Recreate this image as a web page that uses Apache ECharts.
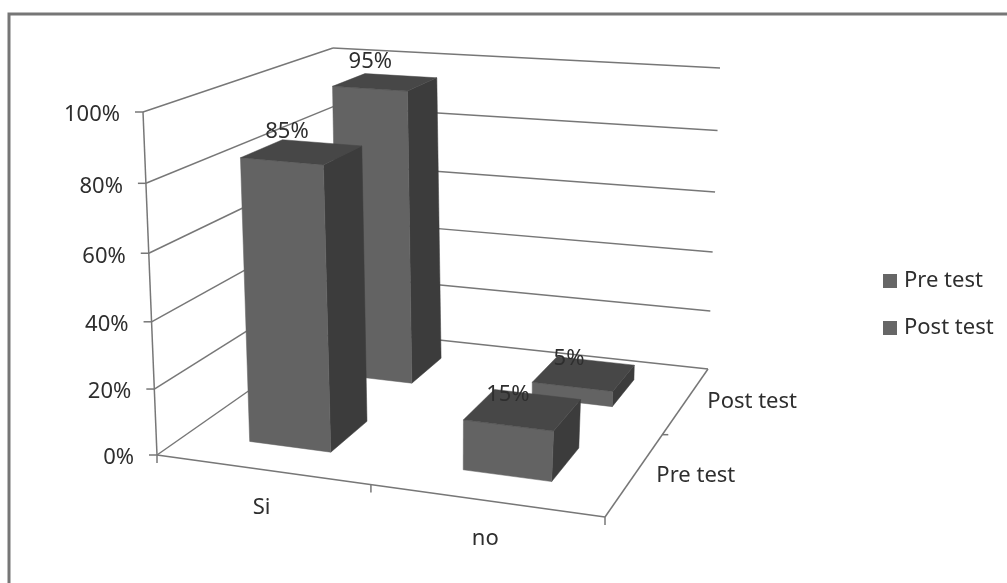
<!DOCTYPE html>
<html><head><meta charset="utf-8">
<style>html,body{margin:0;padding:0;background:#fff}#c{width:1007px;height:583px}</style>
<script src="https://cdn.jsdelivr.net/npm/echarts@6/dist/echarts.min.js"></script>
</head><body><div id="c"></div>
<script>
const categories = ['Si', 'no'];
const seriesNames = ['Pre test', 'Post test'];
const preTest = [85, 15];
const postTest = [95, 5];
const valueTicks = [0, 20, 40, 60, 80, 100];

// perspective frame of the 3D box: corners on screen (u along categories, v along depth)
const floorQuad = [[157,455],[605,517],[708,369],[337,329]];
const topQuad   = [[143,112],[632,153],[720,68],[333,48]];
const heightPerspective = 0.05;
const barU = 0.39, barV = 0.42;          // bar width as share of band
const font = 'Noto Sans';
const ink = '#2e2e2e', rule = '#777777';

function homography(q){
  const [[x0,y0],[x1,y1],[x2,y2],[x3,y3]] = q;
  const dx1=x1-x2, dx2=x3-x2, sx=x0-x1+x2-x3, dy1=y1-y2, dy2=y3-y2, sy=y0-y1+y2-y3;
  const den=dx1*dy2-dx2*dy1, g=(sx*dy2-dx2*sy)/den, h=(dx1*sy-sx*dy1)/den;
  const a=x1-x0+g*x1, b=x3-x0+h*x3, d=y1-y0+g*y1, e=y3-y0+h*y3;
  return (u,v)=>{const w=g*u+h*v+1; return [(a*u+b*v+x0)/w,(d*u+e*v+y0)/w];};
}
const floorH = homography(floorQuad), topH = homography(topQuad);
function P(u,v,t0){
  const t=t0/(1+heightPerspective*(1-t0));
  const a=floorH(u,v), b=topH(u,v);
  return [a[0]+(b[0]-a[0])*t, a[1]+(b[1]-a[1])*t];
}
function poly(points, fill){
  return {type:'polygon', shape:{points}, style:{fill, stroke:fill, lineWidth:0.5}, silent:true};
}
function line(a,b,w){
  return {type:'line', shape:{x1:a[0],y1:a[1],x2:b[0],y2:b[1]}, style:{stroke:rule, lineWidth:w||1.5}, silent:true};
}
function label(x,y,text,align){
  return {type:'text', silent:true, z2:50, style:{x,y,text,fill:ink,fontFamily:font,fontSize:22,align:align||'center',verticalAlign:'middle'}};
}
function norm(params, api, cat, val){
  const s=params.coordSys, c=api.coord([cat,val]);
  return {u:(c[0]-s.x)/s.width, t:(s.y+s.height-c[1])/s.height};
}

function renderWall(params, api){
  const val=api.value(1), t=norm(params,api,0,val).t;
  const a=P(0,0,t), b=P(0,1,t), c=P(1,1,t);
  const kids=[line(a,b), line(b,c), line(a,[a[0]-8,a[1]]),
    label(a[0]-23,a[1]+3,val+'%','right')];
  if(val===0){
    const fr=P(1,0,0), br=P(1,1,0), mid=P(1,0.5,0), xm=P(0.5,0,0);
    kids.push(line(a,fr), line(fr,br), line(P(0,0,0),P(0,0,1)),
      line(fr,[fr[0],fr[1]+8]), line(xm,[xm[0],xm[1]+8]),
      line(mid,[mid[0]+6,mid[1]]), line(a,[a[0],a[1]+8]));
  }
  return {type:'group', children:kids};
}
function renderCatLabel(params, api){
  const cat=api.value(0);
  const u=norm(params,api,cat,0).u, p=P(u,0,0);
  return label(p[0],p[1]+38,categories[cat]);
}
function renderDepthLabel(params, api){
  const i=params.dataIndex, p=P(1,(i+0.5)/seriesNames.length,0);
  return label(p[0]+21,p[1]+2,seriesNames[i],'left');
}
function barRenderer(depthIndex){
  return function(params, api){
    const cat=api.value(0), val=api.value(1), s=params.coordSys;
    const n=norm(params,api,cat,val);
    const hu=barU*api.size([1,0])[0]/s.width/2;
    const vc=(depthIndex+0.5)/seriesNames.length, hv=barV/seriesNames.length/2;
    const u0=n.u-hu,u1=n.u+hu,v0=vc-hv,v1=vc+hv,t=n.t;
    const tc=P(n.u,vc,t);
    return {type:'group',children:[
      poly([P(u1,v0,0),P(u1,v1,0),P(u1,v1,t),P(u1,v0,t)],'#3c3c3c'),
      poly([P(u0,v0,0),P(u1,v0,0),P(u1,v0,t),P(u0,v0,t)],'#636363'),
      poly([P(u0,v0,t),P(u1,v0,t),P(u1,v1,t),P(u0,v1,t)],'#474747'),
      label(tc[0]-15,tc[1]-14-7*t,val+'%')
    ]};
  };
}

const chart = echarts.init(document.getElementById('c'), null, {renderer:'canvas'});
chart.setOption({
  animation:false,
  backgroundColor:'#fff',
  graphic:[{type:'rect', shape:{x:9,y:14,width:1200,height:800}, style:{fill:'none',stroke:'#767676',lineWidth:3}, silent:true, z:-1}],
  legend:{
    data:seriesNames, orient:'vertical', left:878, top:262, icon:'rect',
    itemWidth:14, itemHeight:14, itemGap:19,
    textStyle:{fontFamily:font,fontSize:22,color:ink,lineHeight:28,padding:[0,0,0,2]},
    selectedMode:false
  },
  grid:{left:143,top:112,width:462,height:343},
  xAxis:{type:'category',data:categories,show:false},
  yAxis:{type:'value',min:0,max:100,interval:20,show:false},
  series:[
    {type:'custom',name:'walls',z:1,renderItem:renderWall,data:valueTicks.map(v=>[0,v])},
    {type:'custom',name:'catLabels',z:1,renderItem:renderCatLabel,data:categories.map((c,i)=>[i,0])},
    {type:'custom',name:'depthLabels',z:1,renderItem:renderDepthLabel,data:seriesNames.map(()=>[0,0])},
    {type:'custom',name:'Post test',z:2,itemStyle:{color:'#666666'},renderItem:barRenderer(1),data:postTest.map((v,i)=>[i,v])},
    {type:'custom',name:'Pre test',z:3,itemStyle:{color:'#666666'},renderItem:barRenderer(0),data:preTest.map((v,i)=>[i,v])}
  ]
});
</script></body></html>
